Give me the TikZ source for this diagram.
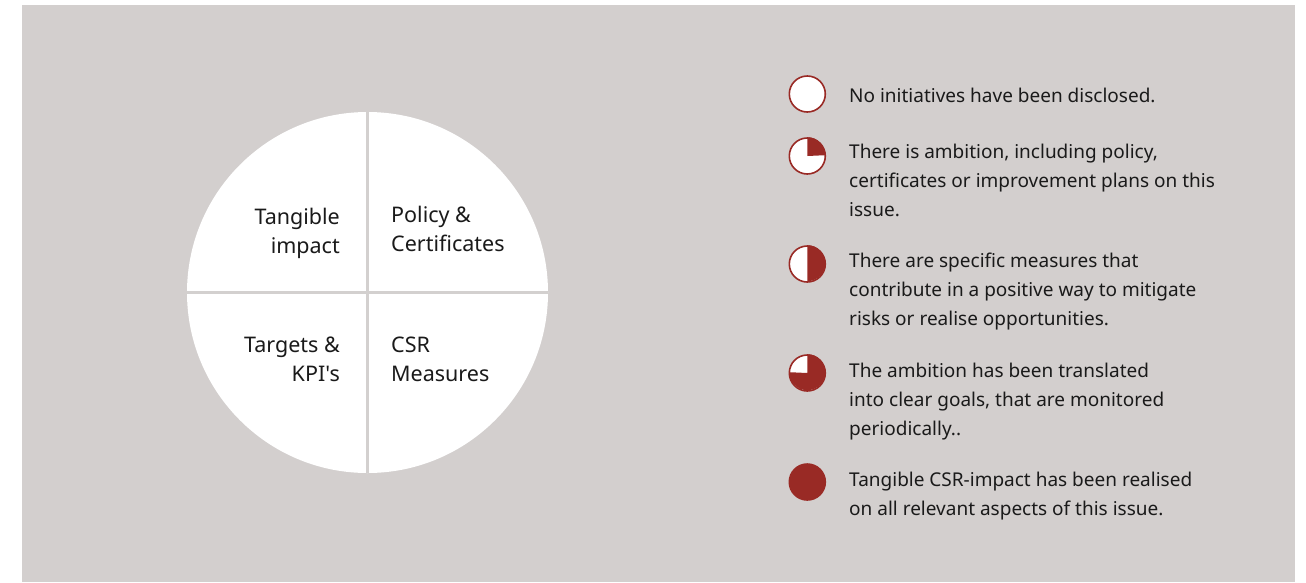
\documentclass[tikz,border=0pt]{standalone}
\usepackage{fontspec}
\setmainfont{Noto Sans}[Ligatures=TeXOff]
\definecolor{bg}{HTML}{D3CFCE}
\definecolor{csrred}{HTML}{992A25}
\definecolor{txt}{HTML}{1A1A1A}
\definecolor{divcol}{HTML}{D3D0CF}
\tikzset{
  divider/.style={draw=divcol, line width=3pt},
  pietext/.style={text=txt, inner sep=0pt, font=\fontsize{21.5}{29}\selectfont},
  legtext/.style={text=txt, inner sep=0pt, anchor=base west, align=left, font=\fontsize{19}{29}\selectfont},
  icon/.style={circle, minimum size=36pt, inner sep=0pt, draw=csrred, line width=1.6pt, fill=white},
  iconfull/.style={circle, minimum size=37.6pt, inner sep=0pt, fill=csrred},
}
\begin{document}
\begin{tikzpicture}[x=1pt,y=-1pt]
\useasboundingbox (0,0) rectangle (1306,582);
\fill[bg] (22,5) rectangle (1295,582);
% pie
\node[circle, fill=white, minimum size=361pt, inner sep=0pt] (pie) at (367.5,292.5) {};
\draw[divider] (pie.north) -- (pie.south);
\draw[divider] (pie.west) -- (pie.east);
% (base anchor = baseline of the last line)
\node[pietext, anchor=base east, align=right] (ti) at (340,253) {Tangible\\impact};
\node[pietext, anchor=base west, align=left] (pc) at (391,251.7) {Policy \&\\Certificates};
\node[pietext, anchor=base east, align=right] (tk) at (340,381) {Targets \&\\KPI's};
\node[pietext, anchor=base west, align=left] (cm) at (391,381) {CSR\\Measures};
% icons
\node[icon] (i1) at (807.3,94) {};
\node[icon] (i2) at (807.3,156) {};
\fill[csrred] (i2.center) -- (i2.north) arc[start angle=90, end angle=0, radius=18pt] -- cycle;
\node[icon] (i3) at (807.3,264) {};
\fill[csrred] (i3.center) -- (i3.north) arc[start angle=90, end angle=-90, radius=18pt] -- cycle;
\node[icon] (i4) at (807.3,373) {};
\fill[csrred] (i4.center) -- (i4.north) arc[start angle=90, end angle=-180, radius=18pt] -- cycle;
\node[iconfull] (i5) at (807.3,482) {};
% legend texts
\node[legtext] (t1) at (849,102.7) {No initiatives have been disclosed.};
\node[legtext] (t2) at (849,216.7) {There is ambition, including policy,\\certificates or improvement plans on this\\issue.};
\node[legtext] (t3) at (849,325.7) {There are specific measures that\\contribute in a positive way to mitigate\\risks or realise opportunities.};
\node[legtext] (t4) at (849,435) {The ambition has been translated\\into clear goals, that are monitored\\periodically..};
\node[legtext] (t5) at (849,515) {Tangible CSR-impact has been realised\\on all relevant aspects of this issue.};
\end{tikzpicture}
\end{document}
